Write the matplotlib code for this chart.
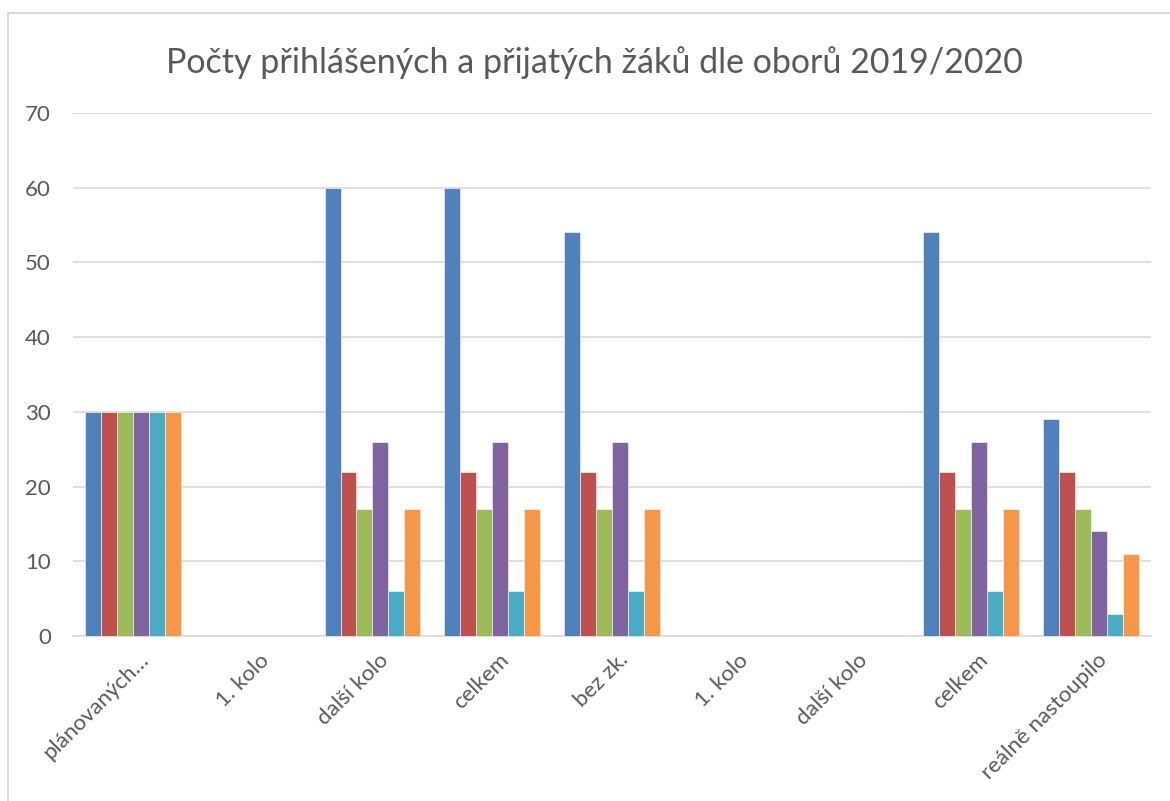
import numpy as np
import matplotlib.pyplot as plt
import matplotlib.transforms as mtransforms
from matplotlib.patches import Rectangle

plt.rcParams['font.family'] = ['Lato', 'DejaVu Sans']

kategorie = ['plánovaných…', '1. kolo', 'další kolo', 'celkem', 'bez zk.',
             '1. kolo', 'další kolo', 'celkem', 'reálně nastoupilo']
obor1 = [30, 0, 60, 60, 54, 0, 0, 54, 29]
obor2 = [30, 0, 22, 22, 22, 0, 0, 22, 22]
obor3 = [30, 0, 17, 17, 17, 0, 0, 17, 17]
obor4 = [30, 0, 26, 26, 26, 0, 0, 26, 14]
obor5 = [30, 0, 6, 6, 6, 0, 0, 6, 3]
obor6 = [30, 0, 17, 17, 17, 0, 0, 17, 11]

serie = [obor1, obor2, obor3, obor4, obor5, obor6]
barvy = ['#4F81BD', '#C0504D', '#9BBB59', '#8064A2', '#4BACC6', '#F79646']

fig = plt.figure(figsize=(11.7, 8.01), dpi=100)
ax = fig.add_axes([0.0624, 0.206, 0.9214, 0.653])

# ramecek grafu
fig.patches.append(Rectangle((8 / 1170, -0.05), 1.2, 1 - 13 / 801 + 0.05,
                             transform=fig.transFigure, fill=False,
                             edgecolor='#d9d9d9', linewidth=1.5))

x = np.arange(len(kategorie))
sirka = 0.8 / len(serie)
for i, (s, c) in enumerate(zip(serie, barvy)):
    ax.bar(x - 0.4 + sirka * (i + 0.5), s, sirka, color=c,
           edgecolor='white', linewidth=0.4, zorder=3)

ax.set_xlim(-0.5, len(kategorie) - 0.5)
ax.set_ylim(0, 70)
ax.set_yticks(range(0, 71, 10))
ax.grid(axis='y', color='#d9d9d9', linewidth=1.2, zorder=0)
for sp in ['top', 'right', 'left']:
    ax.spines[sp].set_visible(False)
ax.spines['bottom'].set_color('#d9d9d9')
ax.spines['bottom'].set_linewidth(1.2)
ax.tick_params(axis='both', length=0, labelsize=16, colors='#595959')
ax.tick_params(axis='y', pad=16)
ax.tick_params(axis='x', pad=10)
ax.set_xticks(x)
ax.set_xticklabels(kategorie, rotation=45, ha='right', rotation_mode='anchor')
posun = mtransforms.ScaledTranslation(0.06, 0, fig.dpi_scale_trans)
for lab in ax.get_xticklabels():
    lab.set_transform(lab.get_transform() + posun)

fig.text(0.508, 0.922, 'Počty přihlášených a přijatých žáků dle oborů 2019/2020',
         ha='center', va='center', fontsize=24.5, color='#595959')

fig.savefig('out.png', dpi=100, facecolor='white')
